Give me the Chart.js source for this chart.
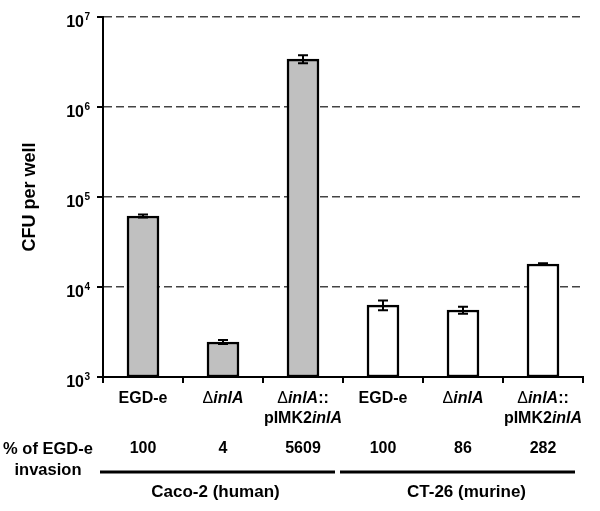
<!DOCTYPE html>
<html><head><meta charset="utf-8">
<script src="https://cdn.jsdelivr.net/npm/chart.js@4/dist/chart.umd.min.js"></script>
<style>html,body{margin:0;padding:0;background:#fff}#wrap{width:600px;height:511px;position:relative}</style>
</head><body><div id="wrap"><canvas id="c" width="600" height="511"></canvas></div>
<script>
// ---- data ----
const categories = ['EGD-e', 'ΔinlA', 'ΔinlA::pIMK2inlA', 'EGD-e', 'ΔinlA', 'ΔinlA::pIMK2inlA'];
const cfuMeans = [61500, 2450, 3410000, 6300, 5550, 18000];
const cfuErrors = [2500, 120, 350000, 800, 500, 400];
const invasionPercent = ['100', '4', '5609', '100', '86', '282'];
const cellLines = ['Caco-2 (human)', 'CT-26 (murine)'];
const cellLineOfBar = [0, 0, 0, 1, 1, 1];
const yTickExponents = [3, 4, 5, 6, 7];
const yAxisTitle = 'CFU per well';
const rowTitle = ['% of EGD-e', 'invasion'];

// ---- styles ----
const FONT = '"Liberation Sans", Arial, sans-serif';
const fills = ['#c0c0c0', '#ffffff'];

function drawRich(ctx, text, cx, cy, size) {
  // Δ upright regular, gene names "inlA" italic
  const parts = text.split(/(inlA|Δ)/).filter(s => s.length);
  const fontOf = p => (p === 'inlA' ? 'italic bold ' : p === 'Δ' ? '' : 'bold ') + size + 'px ' + FONT;
  let total = 0;
  parts.forEach(p => { ctx.font = fontOf(p); total += ctx.measureText(p).width; });
  let x = cx - total / 2;
  ctx.textAlign = 'left';
  ctx.textBaseline = 'middle';
  parts.forEach(p => { ctx.font = fontOf(p); ctx.fillText(p, x, cy); x += ctx.measureText(p).width; });
}

const annot = {
  id: 'annot',
  afterDatasetsDraw(chart) {
    const ctx = chart.ctx, xs = chart.scales.x, ys = chart.scales.y;
    ctx.save();
    ctx.strokeStyle = '#000';
    ctx.lineWidth = 2;
    cfuMeans.forEach((m, i) => {
      const x = xs.getPixelForValue(i);
      const yt = ys.getPixelForValue(m + cfuErrors[i]);
      const yb = ys.getPixelForValue(m - cfuErrors[i]);
      ctx.beginPath();
      ctx.moveTo(x, yt); ctx.lineTo(x, yb);
      ctx.moveTo(x - 5, yt); ctx.lineTo(x + 5, yt);
      ctx.moveTo(x - 5, yb); ctx.lineTo(x + 5, yb);
      ctx.stroke();
    });
    ctx.restore();
  },
  afterDraw(chart) {
    const ctx = chart.ctx, xs = chart.scales.x, ys = chart.scales.y;
    const area = chart.chartArea;
    ctx.save();
    ctx.strokeStyle = '#000';
    ctx.fillStyle = '#000';
    ctx.lineWidth = 2;
    // y tick marks + labels
    yTickExponents.forEach(e => {
      const y = Math.round(ys.getPixelForValue(Math.pow(10, e)));
      ctx.beginPath(); ctx.moveTo(area.left - 6, y); ctx.lineTo(area.left, y); ctx.stroke();
      ctx.font = 'bold 10px ' + FONT;
      ctx.textAlign = 'left'; ctx.textBaseline = 'alphabetic';
      const sup = String(e);
      const sw = ctx.measureText(sup).width;
      const supX = area.left - 13 - sw;
      ctx.fillText(sup, supX, y + 3);
      ctx.font = 'bold 16px ' + FONT;
      ctx.textAlign = 'right';
      ctx.fillText('10', supX - 0.5, y + 10);
    });
    // x tick marks at category boundaries
    const n = categories.length;
    for (let i = 0; i <= n; i++) {
      const x = Math.round(area.left + i * (area.right - area.left) / n);
      ctx.beginPath(); ctx.moveTo(x, area.bottom); ctx.lineTo(x, area.bottom + 6); ctx.stroke();
    }
    // category labels
    categories.forEach((lab, i) => {
      const x = xs.getPixelForValue(i);
      const idx = lab.indexOf('::');
      if (idx >= 0) {
        drawRich(ctx, lab.slice(0, idx + 2), x, area.bottom + 22, 16);
        drawRich(ctx, lab.slice(idx + 2), x, area.bottom + 42, 16);
      } else {
        drawRich(ctx, lab, x, area.bottom + 22, 16);
      }
      ctx.font = 'bold 16px ' + FONT;
      ctx.textAlign = 'center'; ctx.textBaseline = 'middle';
      ctx.fillText(invasionPercent[i], x, area.bottom + 72);
    });
    // row title
    ctx.font = 'bold 16.5px ' + FONT;
    ctx.textAlign = 'center'; ctx.textBaseline = 'middle';
    ctx.fillText(rowTitle[0], 48, area.bottom + 72);
    ctx.fillText(rowTitle[1], 48, area.bottom + 93);
    // group lines and labels
    const step = (area.right - area.left) / n;
    cellLines.forEach((name, g) => {
      const idxs = cellLineOfBar.map((c, i) => c === g ? i : -1).filter(i => i >= 0);
      const first = idxs[0], last = idxs[idxs.length - 1];
      const x1 = area.left + first * step - 3;
      const x2 = area.left + (last + 1) * step - 8;
      ctx.lineWidth = 3;
      ctx.beginPath(); ctx.moveTo(x1, area.bottom + 95); ctx.lineTo(x2, area.bottom + 95); ctx.stroke();
      ctx.font = 'bold 17px ' + FONT;
      ctx.textAlign = 'center'; ctx.textBaseline = 'middle';
      ctx.fillText(name, (x1 + x2) / 2 + (g ? 9 : -2), area.bottom + 115);
    });
    // y axis title
    ctx.save();
    ctx.translate(30, (area.top + area.bottom) / 2);
    ctx.rotate(-Math.PI / 2);
    ctx.font = 'bold 18px ' + FONT;
    ctx.textAlign = 'center'; ctx.textBaseline = 'middle';
    ctx.fillText(yAxisTitle, 0, 0);
    ctx.restore();
    ctx.restore();
  }
};

new Chart(document.getElementById('c'), {
  type: 'bar',
  data: {
    labels: categories,
    datasets: [{
      data: cfuMeans,
      backgroundColor: cellLineOfBar.map(g => fills[g]),
      borderColor: '#000',
      borderWidth: 2.5,
      borderSkipped: false,
      barThickness: 32
    }]
  },
  options: {
    responsive: false,
    animation: false,
    devicePixelRatio: 1,
    layout: { padding: { left: 103, right: 17, top: 17, bottom: 134 } },
    plugins: { legend: { display: false }, tooltip: { enabled: false } },
    scales: {
      x: {
        type: 'category',
        offset: true,
        grid: { display: false, drawTicks: false },
        ticks: { display: false },
        border: { display: true, color: '#000', width: 2 }
      },
      y: {
        type: 'logarithmic',
        min: 1e3,
        max: 1e7,
        afterBuildTicks: s => { s.ticks = yTickExponents.map(e => ({ value: Math.pow(10, e) })); },
        ticks: { display: false },
        grid: {
          drawTicks: false,
          color: c => (c.tick && c.tick.value <= 1e3) ? 'rgba(0,0,0,0)' : '#444',
          lineWidth: 1.5
        },
        border: { display: true, color: '#000', width: 2, dash: [8, 4] }
      }
    }
  },
  plugins: [annot]
});
</script>
</body></html>
